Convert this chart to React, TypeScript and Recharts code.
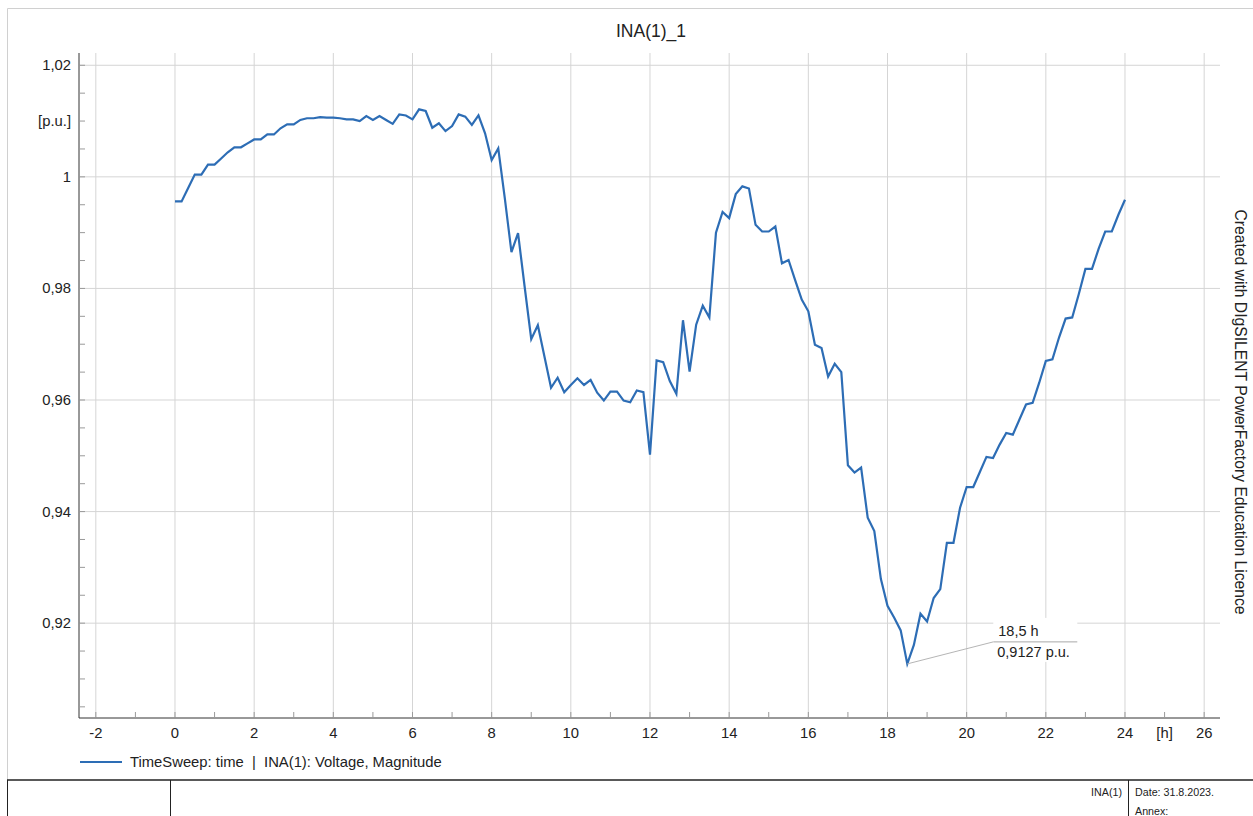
import React from "react";
import { LineChart, Line, XAxis, YAxis, ReferenceLine, ReferenceDot } from "recharts";

// INA(1) voltage magnitude, one value per 10 min from 0 h to 24 h
const STEP_MINUTES = 10;
const voltagePu = [
	0.9956, 0.9956, 0.998, 1.0004, 1.0004, 1.0022, 1.0022, 1.0033, 1.0044, 1.0053, 1.0053, 1.006,
	1.0067, 1.0067, 1.0076, 1.0076, 1.0087, 1.0094, 1.0094, 1.0102, 1.0105, 1.0105, 1.0107, 1.0106,
	1.0106, 1.0105, 1.0103, 1.0103, 1.01, 1.0109, 1.0102, 1.0109, 1.0102, 1.0095, 1.0112, 1.011,
	1.0103, 1.0121, 1.0118, 1.0088, 1.0096, 1.0082, 1.0091, 1.0112, 1.0108, 1.0093, 1.011, 1.0078,
	1.003, 1.0051, 0.9961, 0.9865, 0.9899, 0.9803, 0.9709, 0.9734, 0.9678, 0.9622, 0.964, 0.9614,
	0.9627, 0.9639, 0.9627, 0.9636, 0.9613, 0.9599, 0.9615, 0.9615, 0.9599, 0.9596, 0.9617, 0.9614,
	0.9502, 0.9671, 0.9668, 0.9634, 0.9611, 0.9743, 0.9651, 0.9735, 0.9769, 0.9748, 0.99, 0.9937,
	0.9926, 0.9969, 0.9983, 0.9979, 0.9914, 0.9902, 0.9902, 0.9911, 0.9845, 0.9851, 0.9815, 0.978,
	0.9759, 0.9699, 0.9693, 0.9642, 0.9665, 0.965, 0.9483, 0.947, 0.9479, 0.9389, 0.9365, 0.9279,
	0.9231, 0.921, 0.9187, 0.9127, 0.9161, 0.9217, 0.9203, 0.9245, 0.9261, 0.9344, 0.9344, 0.9407,
	0.9444, 0.9444, 0.9471, 0.9498, 0.9496, 0.952, 0.9541, 0.9538, 0.9565, 0.9592, 0.9595, 0.9631,
	0.967, 0.9673, 0.9712, 0.9746, 0.9748, 0.979, 0.9835, 0.9835, 0.9871, 0.9902, 0.9902, 0.9932,
	0.9959,
];

const xTicks = [-2, -1, 0, 1, 2, 3, 4, 5, 6, 7, 8, 9, 10, 11, 12, 13, 14, 15, 16, 17, 18, 19, 20, 21, 22, 23, 24, 25, 26];
const xGrid = [-2, 0, 2, 4, 6, 8, 10, 12, 14, 16, 18, 20, 22, 24, 26];
const yTicks = [
	0.905, 0.91, 0.915, 0.92, 0.925, 0.93, 0.935, 0.94, 0.945, 0.95, 0.955, 0.96, 0.965, 0.97, 0.975,
	0.98, 0.985, 0.99, 0.995, 1, 1.005, 1.01, 1.015, 1.02,
];
const yGrid = [0.92, 0.94, 0.96, 0.98, 1, 1.02];
const minTime = 18.5;
const minValue = 0.9127;

const data = voltagePu.map((v, i) => ({ t: (i * STEP_MINUTES) / 60, v }));

const FONT = "'Liberation Sans', Arial, sans-serif";
const BLUE = "#2d6db5";
const TEXT = "#222";
const GRID = "#d5d5d5";
const TICK_OFFSET = 8; // tickSize + tickMargin
const TICK_FONT = 14.8;

const XTick = (props: any) => {
	const { x, y, payload } = props;
	const val = payload.value;
	const axisY = y - TICK_OFFSET;
	let label: string | null = null;
	if (val === 25) label = "[h]";
	else if (val % 2 === 0) label = String(val);
	return (
		<g>
			<line x1={x} x2={x} y1={axisY} y2={axisY - 6} stroke="#9a9a9a" />
			{label && (
				<text x={x} y={axisY + 20} textAnchor="middle" fontSize={TICK_FONT} fill={TEXT} fontFamily={FONT}>
					{label}
				</text>
			)}
		</g>
	);
};

const YTick = (props: any) => {
	const { x, y, payload } = props;
	const val: number = payload.value;
	const axisX = x + TICK_OFFSET;
	const major = Math.abs(val * 50 - Math.round(val * 50)) < 1e-6;
	let label: string | null = null;
	if (Math.abs(val - 1.01) < 1e-6) label = "[p.u.]";
	else if (major) label = val === 1 ? "1" : val.toFixed(2).replace(".", ",");
	return (
		<g>
			<line x1={axisX} x2={axisX + 6} y1={y} y2={y} stroke="#9a9a9a" />
			{label && (
				<text x={axisX - 8} y={y + 5} textAnchor="end" fontSize={TICK_FONT} fill={TEXT} fontFamily={FONT}>
					{label}
				</text>
			)}
		</g>
	);
};

const MinLabel = ({ cx, cy }: any) => (
	<g>
		<line x1={cx} y1={cy} x2={cx + 86} y2={cy - 22} stroke="#b5b5b5" />
		<rect x={cx + 86} y={cy - 46} width={84} height={44} fill="#fff" />
		<line x1={cx + 86} y1={cy - 22} x2={cx + 170} y2={cy - 22} stroke="#a8a8a8" />
		<text x={cx + 91} y={cy - 28} fontSize={14.5} fill={TEXT} fontFamily={FONT}>
			18,5 h
		</text>
		<text x={cx + 90} y={cy - 7} fontSize={14.5} fill={TEXT} fontFamily={FONT}>
			0,9127 p.u.
		</text>
	</g>
);

export default function App() {
	return (
		<div style={{ position: "absolute", left: 0, top: 0, width: 1253, height: 816, background: "#fff", fontFamily: FONT }}>
			<LineChart width={1253} height={816} data={data} margin={{ top: 53, right: 33, left: 0, bottom: 0 }}>
				<XAxis
					dataKey="t"
					type="number"
					domain={[-2.425, 26.4]}
					ticks={xTicks}
					interval={0}
					allowDataOverflow
					height={98}
					tickSize={6}
					tickMargin={2}
					tickLine={false}
					axisLine={{ stroke: "#333" }}
					tick={(p: any) => <XTick {...p} />}
				/>
				<YAxis
					type="number"
					domain={[0.903, 1.0222]}
					ticks={yTicks}
					interval={0}
					allowDataOverflow
					width={79}
					tickSize={6}
					tickMargin={2}
					tickLine={false}
					axisLine={{ stroke: "#333" }}
					tick={(p: any) => <YTick {...p} />}
				/>
				{xGrid.map((g) => (
					<ReferenceLine key={`x${g}`} x={g} stroke={GRID} />
				))}
				{yGrid.map((g) => (
					<ReferenceLine key={`y${g}`} y={g} stroke={GRID} />
				))}
				<Line
					type="linear"
					dataKey="v"
					stroke={BLUE}
					strokeWidth={2.2}
					dot={false}
					isAnimationActive={false}
				/>
				<ReferenceDot x={minTime} y={minValue} r={0} shape={(p: any) => <MinLabel {...p} />} />
			</LineChart>

			<svg width={1253} height={816} style={{ position: "absolute", left: 0, top: 0, pointerEvents: "none" }}>
				{/* frame */}
				<line x1={7.5} y1={8.5} x2={1253} y2={8.5} stroke="#d0d0d0" />
				<line x1={7.5} y1={8.5} x2={7.5} y2={780} stroke="#d0d0d0" />
				<text x={651} y={37} textAnchor="middle" fontSize={17.5} fill={TEXT} fontFamily={FONT}>
					INA(1)_1
				</text>
				<text
					transform="translate(1235,412) rotate(90)"
					textAnchor="middle"
					fontSize={15.7}
					fill={TEXT}
					fontFamily={FONT}
				>
					Created with DIgSILENT PowerFactory Education Licence
				</text>
				{/* legend */}
				<line x1={80} y1={762} x2={122} y2={762} stroke={BLUE} strokeWidth={2} />
				<text x={130} y={767} fontSize={14.8} fill={TEXT} fontFamily={FONT} xmlSpace="preserve">
					TimeSweep: time  |  INA(1): Voltage, Magnitude
				</text>
				{/* footer */}
				<line x1={7} y1={780} x2={1253} y2={780} stroke="#222" strokeWidth={1.5} />
				<line x1={7.5} y1={780} x2={7.5} y2={816} stroke="#222" />
				<line x1={170.5} y1={780} x2={170.5} y2={816} stroke="#222" />
				<line x1={1128.5} y1={780} x2={1128.5} y2={816} stroke="#222" />
				<text x={1122} y={796} textAnchor="end" fontSize={10.7} fill={TEXT} fontFamily={FONT}>
					INA(1)
				</text>
				<text x={1135} y={796} fontSize={10.7} fill={TEXT} fontFamily={FONT}>
					Date: 31.8.2023.
				</text>
				<text x={1135} y={815} fontSize={10.7} fill={TEXT} fontFamily={FONT}>
					Annex:
				</text>
			</svg>
		</div>
	);
}
